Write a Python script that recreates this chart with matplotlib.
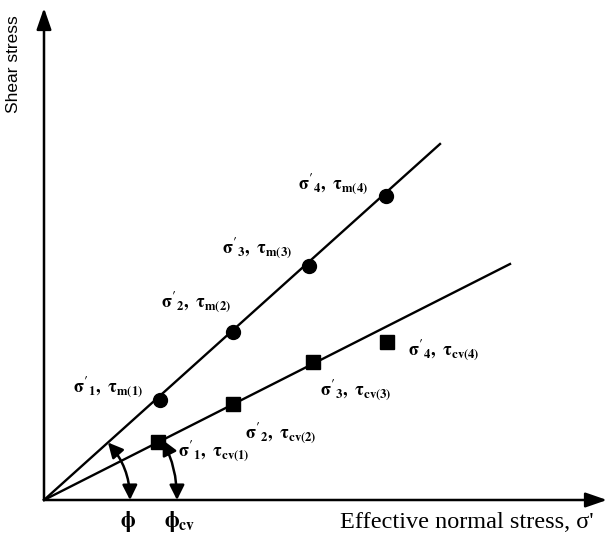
import matplotlib
matplotlib.use("Agg")
import matplotlib.pyplot as plt
from matplotlib.patches import FancyArrowPatch
import numpy as np

plt.rcParams['mathtext.fontset'] = 'stix'
plt.rcParams['mathtext.default'] = 'bf'

# ---- data (schematic units) ----
sigma_peak = [116, 189, 265, 342]
tau_peak = [100, 168, 234, 304]
sigma_cv = [114, 189, 269, 343]
tau_cv = [58, 96, 138, 158]
peak_line_end = (396, 356)
cv_line_end = (466, 236)
peak_labels = [r"$\sigma'_1,\ \tau_{m(1)}$", r"$\sigma'_2,\ \tau_{m(2)}$",
               r"$\sigma'_3,\ \tau_{m(3)}$", r"$\sigma'_4,\ \tau_{m(4)}$"]
cv_labels = [r"$\sigma'_1,\ \tau_{cv(1)}$", r"$\sigma'_2,\ \tau_{cv(2)}$",
             r"$\sigma'_3,\ \tau_{cv(3)}$", r"$\sigma'_4,\ \tau_{cv(4)}$"]
peak_label_pos = [(29, 113), (117, 198), (178, 252), (254, 316)]
cv_label_pos = [(134, 49), (201, 67), (276, 110), (364, 150)]
x_label = "Effective normal stress, σ'"
y_label = "Shear stress"

fig = plt.figure(figsize=(6.1, 5.34), dpi=100)
ax = fig.add_axes([0, 0, 1, 1])
ax.set_xlim(-44, 566)
ax.set_ylim(-34, 500)
ax.axis('off')

# axes with arrows
ax.annotate('', xy=(0, 492), xytext=(0, 0),
            arrowprops=dict(arrowstyle='-|>,head_length=1.3,head_width=0.45',
                            lw=1.8, color='black', shrinkA=0, shrinkB=0))
ax.annotate('', xy=(563, 0), xytext=(0, 0),
            arrowprops=dict(arrowstyle='-|>,head_length=1.3,head_width=0.45',
                            lw=1.8, color='black', shrinkA=0, shrinkB=0))

# envelopes
ax.plot([0, peak_line_end[0]], [0, peak_line_end[1]], color='black', lw=1.7)
ax.plot([0, cv_line_end[0]], [0, cv_line_end[1]], color='black', lw=1.7)

ax.plot(sigma_peak, tau_peak, 'o', color='black', markersize=10)
ax.plot(sigma_cv, tau_cv, 's', color='black', markersize=10)

for lab, (x, y) in zip(peak_labels, peak_label_pos):
    ax.text(x, y, lab, fontsize=13, ha='left', va='center')
for lab, (x, y) in zip(cv_labels, cv_label_pos):
    ax.text(x, y, lab, fontsize=13, ha='left', va='center')

# angle arcs
def angle_arc(r, slope):
    th = np.arctan(slope)
    p1 = (r * np.cos(th), r * np.sin(th))
    p2 = (r, 0)
    rad = -np.tan(th / 4) * 1.0
    arr = FancyArrowPatch(p1, p2, connectionstyle=f"arc3,rad={rad}",
                          arrowstyle='<|-|>,head_length=6,head_width=3',
                          lw=1.8, color='black', shrinkA=0, shrinkB=0,
                          mutation_scale=1.5)
    ax.add_patch(arr)

angle_arc(86, peak_line_end[1] / peak_line_end[0])
angle_arc(133, cv_line_end[1] / cv_line_end[0])

ax.text(84, -22, r"$\phi$", fontsize=16, ha='center', va='center')
ax.text(136, -22, r"$\phi_{cv}$", fontsize=16, ha='center', va='center')

ax.text(296, -22, x_label, fontsize=17.5, family='Liberation Serif',
        ha='left', va='center')
ax.text(-30, 436, y_label, fontsize=12.5, family='Liberation Sans',
        rotation=90, ha='center', va='center')

fig.savefig('out.png', dpi=100)
